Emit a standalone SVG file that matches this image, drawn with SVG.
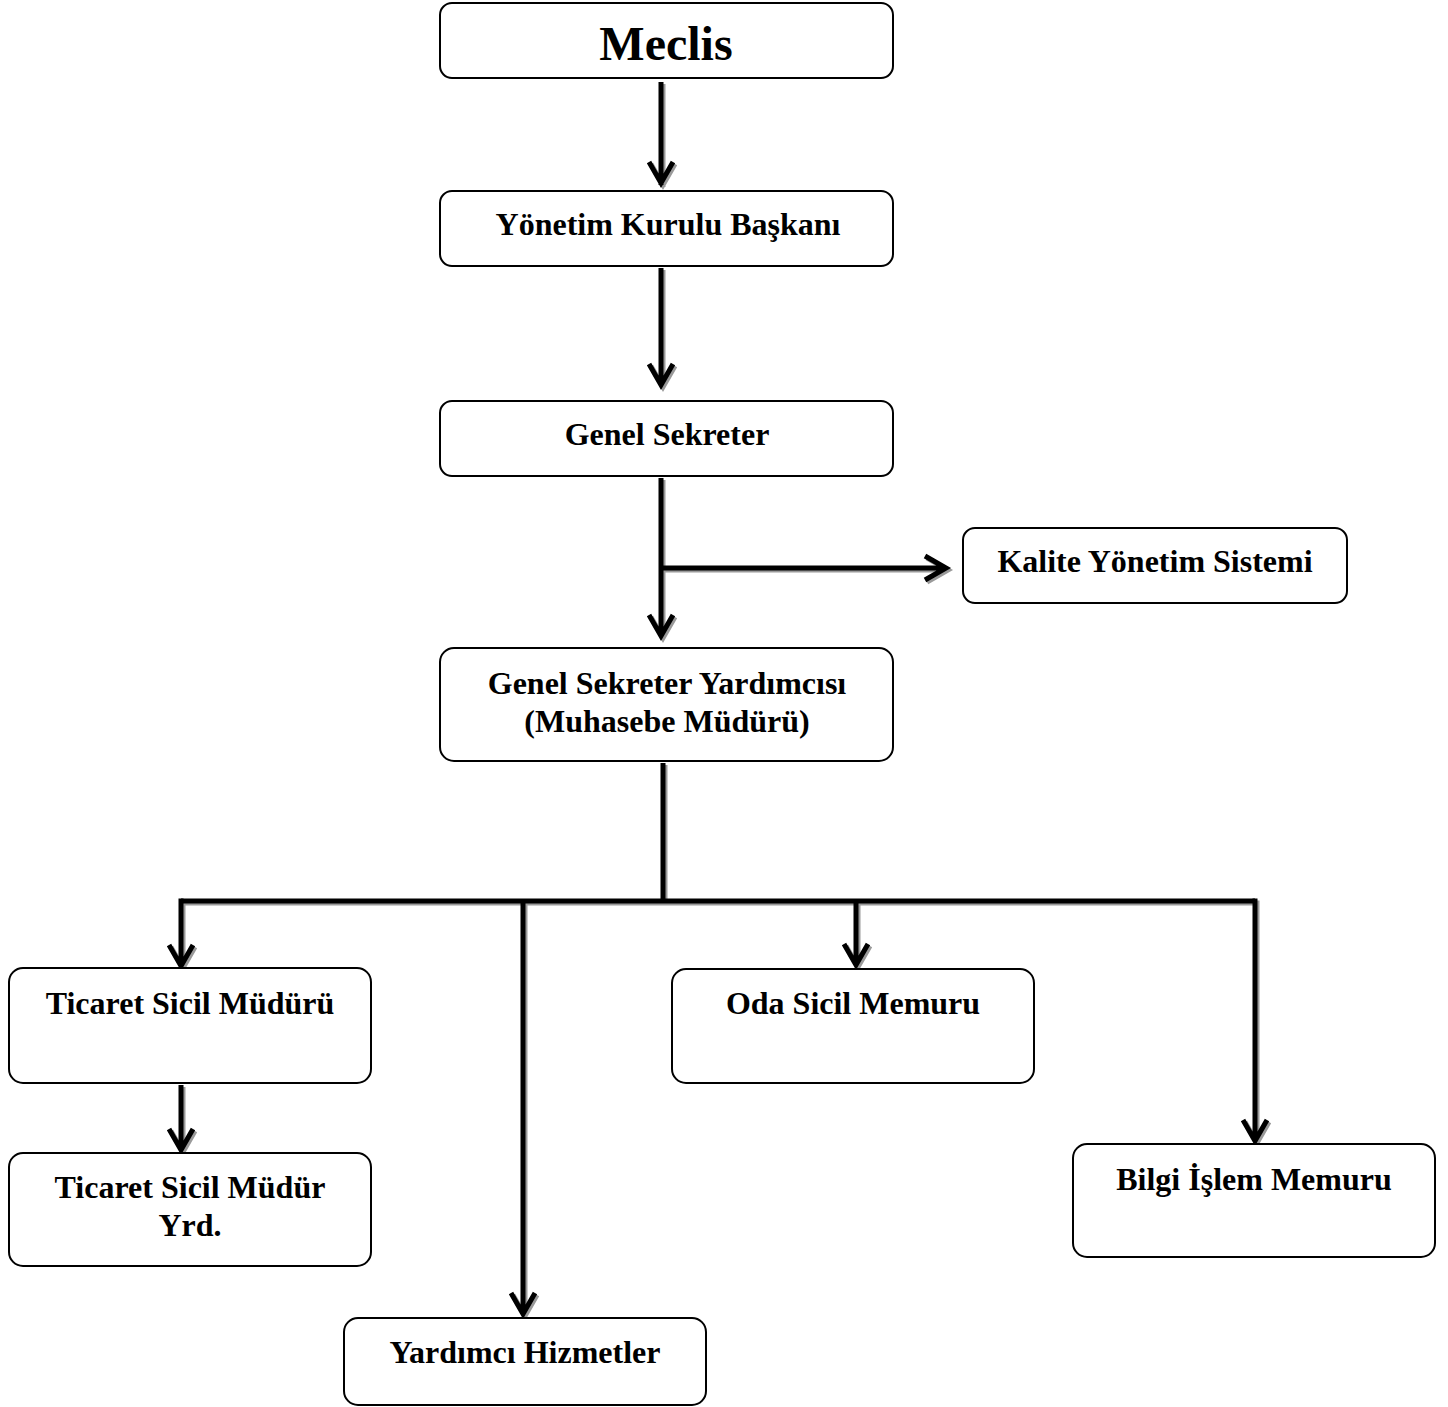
<svg xmlns="http://www.w3.org/2000/svg" xmlns:xlink="http://www.w3.org/1999/xlink" width="1448" height="1407" viewBox="0 0 1448 1407">
<style>
.box{fill:#fff;stroke:#000;stroke-width:2}
.t{font-family:"Liberation Serif","Times New Roman",serif;font-weight:bold;font-size:32px;fill:#000;text-anchor:middle}
.big{font-size:48px}
#conn{fill:none;stroke-width:5;stroke-linejoin:miter;stroke-linecap:butt}
</style>
<defs>
<g id="lines">
<path d="M661,82 V185 M649,162 L661,183 L673,162"/>
<path d="M661,268 V385 M649,364 L661,385 L673,364"/>
<path d="M661,478 V636 M649,615 L661,636 L673,615"/>
<path d="M661,568 H946 M925,556 L946,568 L925,580"/>
<path d="M663,763 V901"/>
<path d="M181,901 H1255"/>
<path d="M181,898.5 V966 M169,945 L181,966 L193,945"/>
<path d="M523,901 V1314 M511,1293 L523,1314 L535,1293"/>
<path d="M856,901 V965 M844,944 L856,965 L868,944"/>
<path d="M1255,898.5 V1141 M1243,1120 L1255,1141 L1267,1120"/>
<path d="M181,1085 V1150 M169,1129 L181,1150 L193,1129"/>
</g>
</defs>
<g id="conn">
<use xlink:href="#lines" href="#lines" transform="translate(2,2)" stroke="#9a9a9a"/>
<use xlink:href="#lines" href="#lines" stroke="#000"/>
</g>
<g id="meclis"><rect class="box" x="440" y="3" width="453" height="75" rx="12"/><text class="t big" x="666" y="60">Meclis</text></g>
<g id="ykb"><rect class="box" x="440" y="191" width="453" height="75" rx="12"/><text class="t" x="668" y="235">Yönetim Kurulu Başkanı</text></g>
<g id="gs"><rect class="box" x="440" y="401" width="453" height="75" rx="12"/><text class="t" x="667" y="445">Genel Sekreter</text></g>
<g id="kys"><rect class="box" x="963" y="528" width="384" height="75" rx="12"/><text class="t" x="1155" y="572">Kalite Yönetim Sistemi</text></g>
<g id="gsy"><rect class="box" x="440" y="648" width="453" height="113" rx="14"/><text class="t" x="667" y="694">Genel Sekreter Yardımcısı</text><text class="t" x="667" y="732">(Muhasebe Müdürü)</text></g>
<g id="tsm"><rect class="box" x="9" y="968" width="362" height="115" rx="14"/><text class="t" x="190" y="1014">Ticaret Sicil Müdürü</text></g>
<g id="tsmy"><rect class="box" x="9" y="1153" width="362" height="113" rx="14"/><text class="t" x="190" y="1198">Ticaret Sicil Müdür</text><text class="t" x="190" y="1236">Yrd.</text></g>
<g id="yh"><rect class="box" x="344" y="1318" width="362" height="87" rx="14"/><text class="t" x="525" y="1363">Yardımcı Hizmetler</text></g>
<g id="osm"><rect class="box" x="672" y="969" width="362" height="114" rx="14"/><text class="t" x="853" y="1014">Oda Sicil Memuru</text></g>
<g id="bim"><rect class="box" x="1073" y="1144" width="362" height="113" rx="14"/><text class="t" x="1254" y="1190">Bilgi İşlem Memuru</text></g>
</svg>
